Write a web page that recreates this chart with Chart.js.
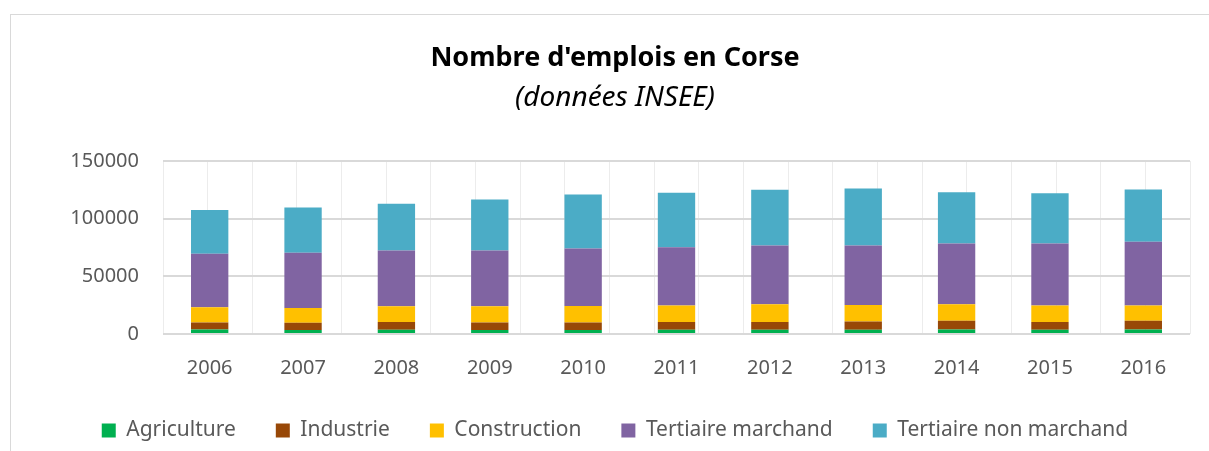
<!DOCTYPE html>
<html>
<head>
<meta charset="utf-8">
<script src="https://cdn.jsdelivr.net/npm/chart.js@4"></script>
<style>
  html, body { margin: 0; padding: 0; background: #fff; }
  #cadre { position: absolute; left: 10px; top: 14px; width: 1210px; height: 450px;
           border-top: 1px solid #d9d9d9; border-left: 1px solid #d9d9d9; }
  #wrap { position: absolute; left: 0; top: 0; width: 1209px; height: 451px; }
</style>
</head>
<body>
<div id="cadre"></div>
<div id="wrap"><canvas id="chart_1" width="1209" height="451"></canvas></div>
<script>
// Données (nombre d'emplois)
var annees = ["2006", "2007", "2008", "2009", "2010", "2011", "2012", "2013", "2014", "2015", "2016"];
var agriculture = [4000, 3500, 3700, 3400, 3400, 3700, 3700, 3700, 4000, 3700, 4000];
var industrie = [6000, 6200, 6600, 6600, 6600, 6800, 6800, 7200, 7400, 6800, 7400];
var construction = [13100, 12800, 13700, 14000, 14200, 14300, 15200, 14200, 14300, 14300, 13400];
var tertiaireMarchand = [46500, 48000, 48500, 48500, 50000, 50500, 51100, 51700, 52800, 53700, 55100];
var tertiaireNonMarchand = [38000, 39100, 40500, 44200, 46800, 47100, 48200, 49300, 44500, 43600, 45300];

var series = ["Agriculture", "Industrie", "Construction", "Tertiaire marchand", "Tertiaire non marchand"];
var valeurs = [agriculture, industrie, construction, tertiaireMarchand, tertiaireNonMarchand];
var colores = ["#00b050", "#984807", "#ffc000", "#8064a2", "#4bacc6"];

var police = "'Noto Sans', sans-serif";

var datasets = series.map(function(nom, i) {
  return {
    label: nom,
    data: valeurs[i],
    backgroundColor: colores[i],
    borderWidth: 0,
    xAxisID: "x",
    yAxisID: "y"
  };
});

var ctx = document.getElementById("chart_1").getContext("2d");
var chart = new Chart(ctx, {
  type: "bar",
  data: { labels: annees, datasets: datasets },
  options: {
    responsive: false,
    animation: false,
    layout: { padding: { left: 40, right: 19, top: 0, bottom: 0 } },
    datasets: { bar: { categoryPercentage: 0.4, barPercentage: 1 } },
    plugins: {
      title: {
        display: true,
        text: "Nombre d'emplois en Corse",
        color: "#000",
        font: { family: police, size: 27, weight: "bold" },
        padding: { top: 42, bottom: 7 }
      },
      subtitle: {
        display: true,
        text: "(données INSEE)",
        color: "#000",
        font: { family: police, size: 28, style: "italic" },
        padding: { top: 0, bottom: 46 }
      },
      legend: {
        position: "bottom",
        labels: {
          color: "#595959",
          font: { family: police, size: 21 },
          boxWidth: 14,
          boxHeight: 14,
          padding: 40
        }
      },
      tooltip: { enabled: false }
    },
    scales: {
      x: {
        type: "category",
        stacked: true,
        grid: { display: false },
        border: { display: false },
        ticks: { color: "#595959", font: { family: police, size: 20 }, padding: 14 },
        afterFit: function(scale) { scale.height = 46; }
      },
      xg: {
        type: "linear",
        position: "bottom",
        min: -0.5,
        max: 10.5,
        ticks: { display: false, stepSize: 0.5 },
        grid: { color: "#ececec", lineWidth: 1, drawTicks: false },
        border: { display: false }
      },
      y: {
        stacked: true,
        min: 0,
        max: 150000,
        ticks: {
          stepSize: 50000,
          color: "#595959",
          font: { family: police, size: 20 },
          padding: 24,
          callback: function(v) { return String(v); }
        },
        grid: { color: "#d9d9d9", lineWidth: 2, drawTicks: false },
        border: { display: false },
        afterFit: function(scale) { scale.width = 123; }
      }
    }
  }
});
</script>
</body>
</html>
